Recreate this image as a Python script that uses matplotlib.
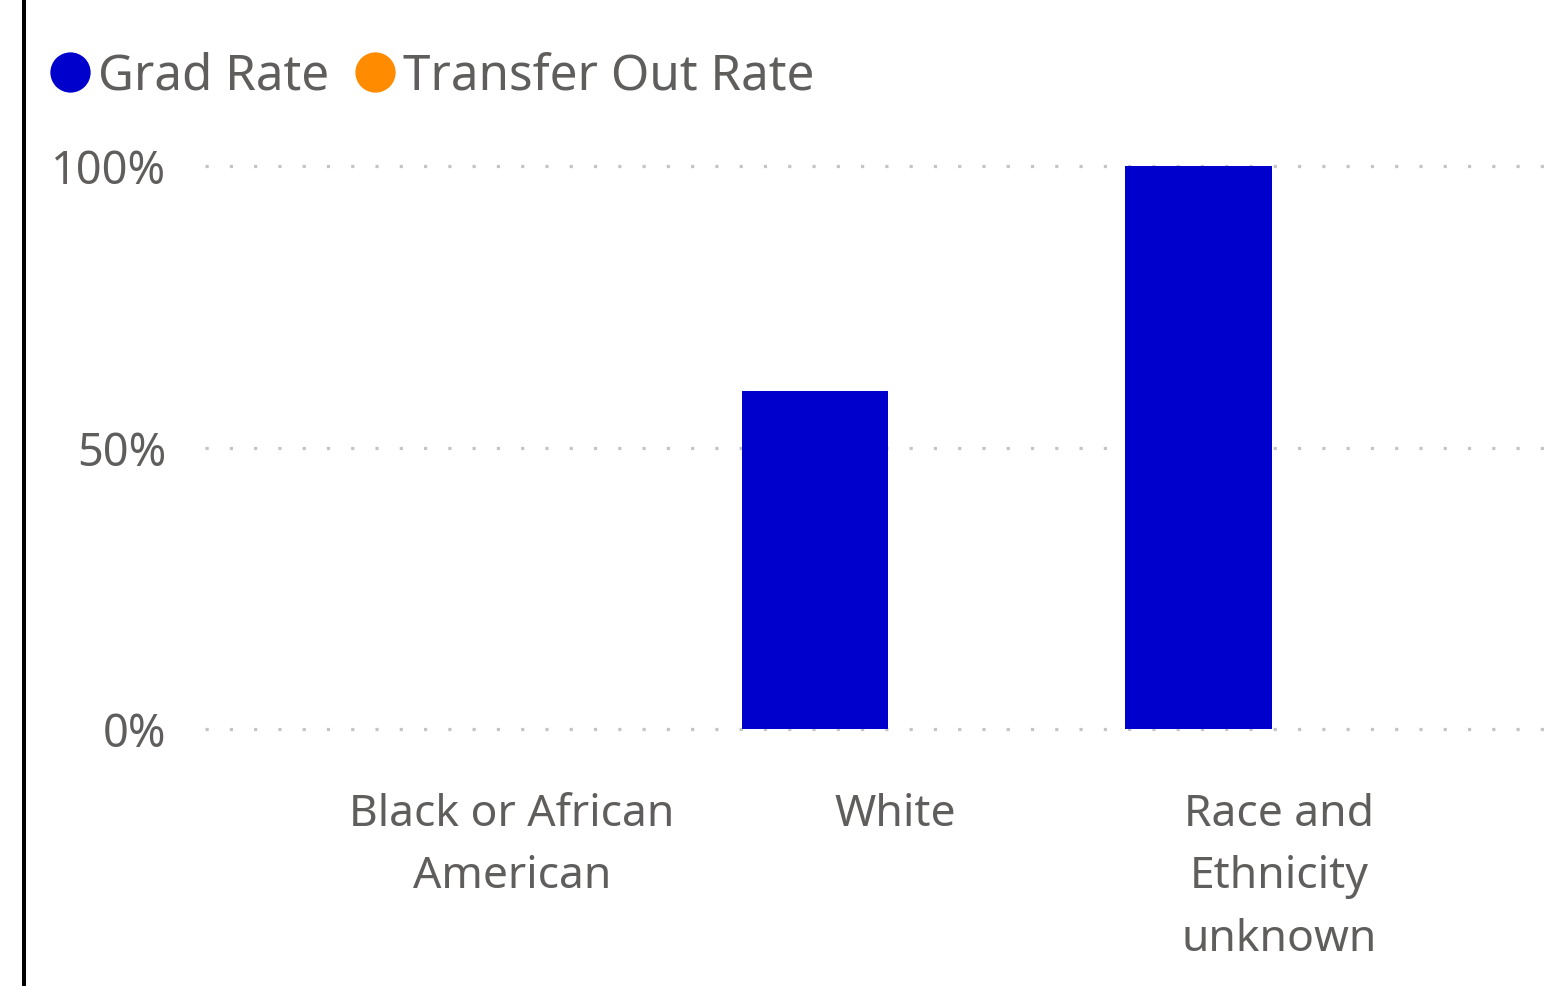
import matplotlib

matplotlib.use("Agg")
import matplotlib.pyplot as plt
from matplotlib.lines import Line2D
import numpy as np

categories = ["Black or African\nAmerican", "White", "Race and\nEthnicity\nunknown"]
grad_rate = [0.0, 0.60, 1.00]
transfer_out_rate = [0.0, 0.0, 0.0]
series_names = ["Grad Rate", "Transfer Out Rate"]
series_colors = ["#0000CD", "#FF8C00"]
y_ticks = [0.0, 0.5, 1.0]
y_tick_labels = ["0%", "50%", "100%"]

text_color = "#605E5C"
plt.rcParams["font.family"] = ["Noto Sans", "DejaVu Sans"]

W, H = 1567, 987
fig = plt.figure(figsize=(W / 100, H / 100), dpi=100)

# plot area in pixels: x 205..1555, y 0% at 730, 100% at 167
px_per_unit = 730 - 167
ypad = 0.02
bottom_px = 730 + ypad * px_per_unit
top_px = 167 - ypad * px_per_unit
ax = fig.add_axes([205 / W, 1 - bottom_px / H, (1555 - 205) / W, (bottom_px - top_px) / H])

x = np.arange(len(categories))
bar_w = 0.381
off = 0.21
ax.bar(x - off, grad_rate, bar_w, color=series_colors[0], linewidth=0, zorder=3)
ax.bar(x + off, transfer_out_rate, bar_w, color=series_colors[1], linewidth=0, zorder=3)

# category spacing ~383.5 px, first center at 512 px
unit = 383.5
ax.set_xlim(-(512 - 205) / unit, 2 + (1555 - 1279) / unit)
ax.set_ylim(-ypad, 1 + ypad)

ax.set_yticks(y_ticks)
ax.set_yticklabels(y_tick_labels)
ax.set_xticks(x)
ax.set_xticklabels(categories, linespacing=1.56)
ax.tick_params(axis="y", length=0, pad=28, labelsize=32.5, labelcolor=text_color)
ax.tick_params(axis="x", length=0, pad=37, labelsize=32, labelcolor=text_color)
for lbl in ax.get_xticklabels():
    lbl.set_verticalalignment("top")

for s in ax.spines.values():
    s.set_visible(False)
for yv in y_ticks:
    ax.axhline(yv, color="#C4C4C4", linewidth=2.3, linestyle=(0, (1, 6.6)), zorder=1)

handles = [
    Line2D([], [], marker="o", linestyle="", markersize=29, color=c, markeredgewidth=0)
    for c in series_colors
]
leg = fig.legend(
    handles,
    series_names,
    loc="center left",
    bbox_to_anchor=(24 / W, 1 - 77 / H),
    ncol=2,
    frameon=False,
    fontsize=35.5,
    handlelength=0.85,
    handletextpad=0.15,
    columnspacing=0.5,
    borderpad=0,
)
for t in leg.get_texts():
    t.set_color(text_color)

# left border line
fig.add_artist(Line2D([23.5 / W, 23.5 / W], [0, 1], color="black", linewidth=2.9))

fig.savefig("out.png", dpi=100)
